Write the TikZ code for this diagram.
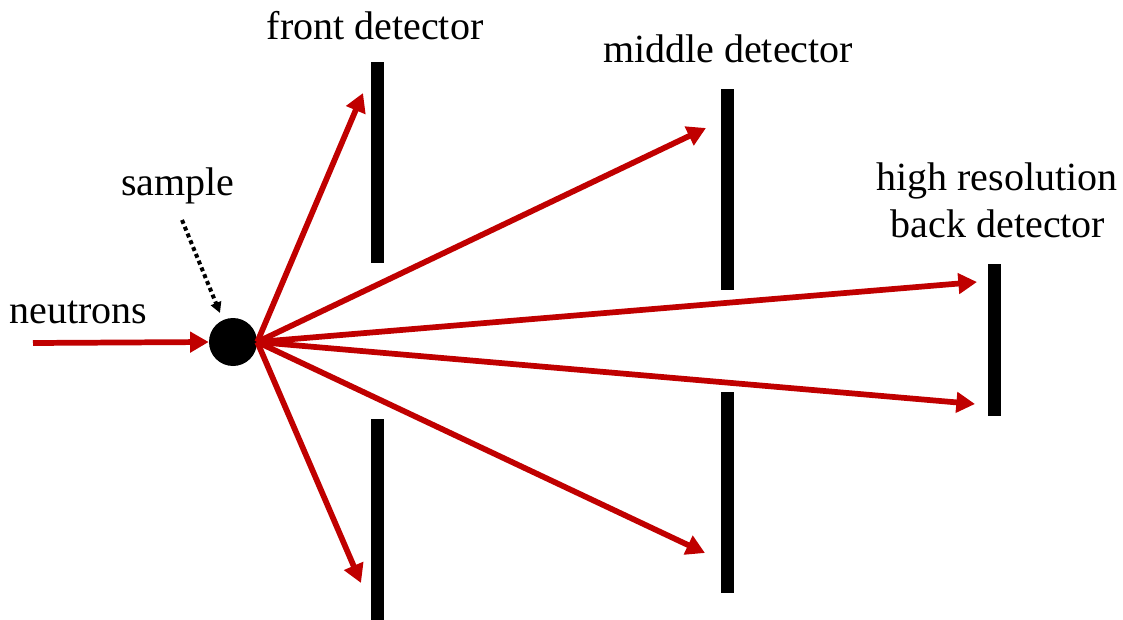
\documentclass[tikz,border=0pt]{standalone}
\usepackage{fontspec}
\setmainfont{Liberation Serif}
\usepackage{xcolor}
\usetikzlibrary{arrows.meta,calc,positioning}
\definecolor{beamred}{RGB}{192,0,0}

\begin{document}
\begin{tikzpicture}[x=0.75pt,y=-0.75pt,
    bar/.style={fill=black,inner sep=0pt,minimum width=9.75pt,minimum height=150.75pt},
    ray/.style={beamred,line width=4.3pt,-{Triangle[length=14pt,width=15pt]}},
    lbl/.style={font=\fontsize{30}{36}\selectfont,anchor=base,inner sep=0pt}]
  \useasboundingbox (0,0) rectangle (1123,620);
  % sample
  \node[circle,fill=black,minimum size=36pt,inner sep=0pt] (sample) at (233,342) {};
  % detectors
  \node[bar] (front1) at (377,162.5) {};
  \node[bar] (front2) at (377,519.5) {};
  \node[bar] (mid1) at (727,189.5) {};
  \node[bar] (mid2) at (727,492.5) {};
  \node[bar,minimum height=114pt] (back) at (994.5,340) {};
  %labels
  \node[lbl] (frontlbl) at (375,40) {front detector};
  \node[lbl] (midlbl) at (728,63) {middle detector};
  \node[lbl] (backlbl1) at (997,191) {high resolution};
  \node[lbl] (backlbl2) at (998,238) {back detector};
  \node[lbl] (samplelbl) at (178,196) {sample};
  \node[lbl] (neutronlbl) at (78.5,323) {neutrons};
  % beam in
  \coordinate (beam) at (33,343);
  \draw[ray] (beam) -- (sample.west);
  % pointer to the sample
  \coordinate (ptr) at (182,220);
  \coordinate (ptrend) at (220,313);
  \draw[line width=3pt,dash pattern=on 3pt off 2.5pt,-{Triangle[length=8pt,width=8pt]}] (ptr) -- (ptrend);
  % scattered rays
  \coordinate (src) at (sample.east);
  \coordinate (t1) at (363,93);
  \coordinate (t2) at (706,128);
  \coordinate (t3) at (977,282);
  \coordinate (t4) at (975,404);
  \coordinate (t5) at (705,553);
  \coordinate (t6) at (361,583);
  \foreach \t in {t1,t2,t3,t4,t5,t6}
    \draw[ray] (src) -- (\t);
\end{tikzpicture}
\end{document}
